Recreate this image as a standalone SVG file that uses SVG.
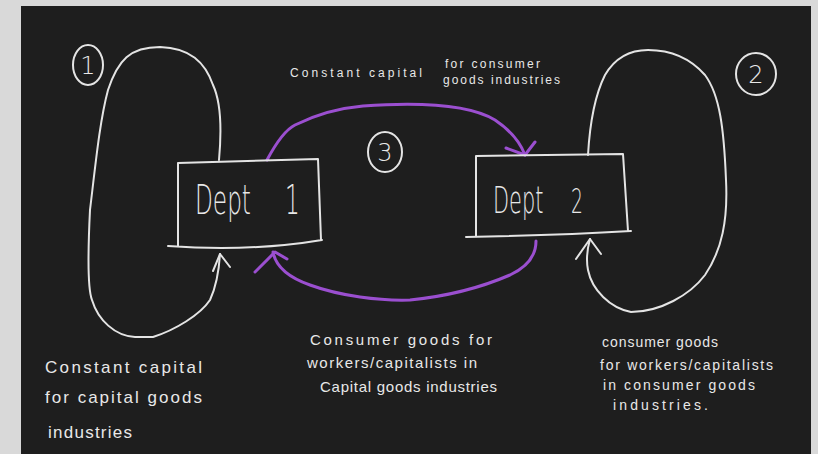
<svg xmlns="http://www.w3.org/2000/svg" width="818" height="454" viewBox="0 0 818 454">
<defs>
<style>
.ln{fill:none;stroke:#e4e4e4;stroke-width:2;stroke-linecap:round;stroke-linejoin:round}
.pu{fill:none;stroke:#9b4fd0;stroke-width:3;stroke-linecap:round;stroke-linejoin:round}
.t{fill:#e8e8e8;font-family:"Liberation Sans","DejaVu Sans",sans-serif}
.big{font-family:"DejaVu Sans","Liberation Sans",sans-serif;font-weight:200}
.num{font-family:"DejaVu Sans","Liberation Sans",sans-serif;font-weight:200;font-size:24px;text-anchor:middle}
</style>
</defs>
<rect x="0" y="0" width="818" height="454" fill="#d9d9d9"/>
<rect x="21" y="6" width="790" height="448" fill="#1e1e1e"/>

<g id="connectors">
  <g id="loop1">
    <path class="ln" d="M219,160 C222,127 220,100 213,85 C205,62 190,48 160,47 C130,47 118,60 108,90 C100,120 96,160 90,210 C88,250 88,290 92,300 C98,320 115,336 135,337 L153,337 C175,330 200,315 210,300 C217,285 219,270 220,254"/>
    <path class="ln" d="M213,271 L220,254 L230,267"/>
  </g>
  <g id="loop2">
    <path class="ln" d="M588,155 C590,120 595,95 605,75 C615,58 630,50 648,50 C670,50 690,58 705,75 C720,95 724,130 726,180 C728,220 722,250 705,275 C690,295 660,312 631,312 C610,308 592,290 588,270 C586,260 587,250 590,239"/>
    <path class="ln" d="M576,259 L590,239 L601,254"/>
  </g>
  <g id="flow-top">
    <path class="pu" d="M267,160 C275,145 285,130 295,125 C315,115 340,108 363,106 C420,102 470,105 495,120 C510,130 520,142 525,155"/>
    <path class="pu" d="M506,148 L525,155 L535,142"/>
  </g>
  <g id="flow-bottom">
    <path class="pu" d="M536,241 C536,258 525,268 510,275 C480,288 450,296 410,300 C380,301 340,296 310,285 C290,278 276,268 273,252"/>
    <path class="pu" d="M255,272 L275,252 L287,259"/>
  </g>
</g>

<g id="dept1">
  <path class="ln" d="M178,163 L318,159 L321,240 M168,246 Q250,252 322,240 M178,163 L178,246"/>
  <text class="t big" font-size="40" transform="matrix(0.58 0 0 1 195 214)" x="0" y="0">Dept<tspan x="155">1</tspan></text>
</g>

<g id="dept2">
  <path class="ln" d="M476,156 L623,154 L628,231 M466,237 C520,236 580,234 631,231 M476,156 L476,237"/>
  <text class="t big" font-size="38" transform="matrix(0.55 0 0 1 493 213)" x="0" y="0">Dept<tspan x="142" font-size="34">2</tspan></text>
</g>

<g id="marker1">
  <ellipse class="ln" cx="88" cy="65" rx="15" ry="20"/>
  <text class="t num" x="88" y="74">1</text>
</g>
<g id="marker2">
  <ellipse class="ln" cx="756" cy="74" rx="20" ry="21"/>
  <text class="t num" x="756" y="83">2</text>
</g>
<g id="marker3">
  <ellipse class="ln" cx="385" cy="152" rx="17" ry="20"/>
  <text class="t num" x="385" y="161">3</text>
</g>

<g id="label-top">
  <text class="t" font-size="12" x="290" y="77" textLength="132" lengthAdjust="spacing">Constant capital</text>
  <text class="t" font-size="12" x="445" y="68" textLength="95" lengthAdjust="spacing">for consumer</text>
  <text class="t" font-size="12" x="443" y="84" textLength="117" lengthAdjust="spacing">goods industries</text>
</g>
<g id="label-left">
  <text class="t" font-size="17" x="45" y="373" textLength="157" lengthAdjust="spacing">Constant capital</text>
  <text class="t" font-size="17" x="45" y="403" textLength="157" lengthAdjust="spacing">for capital goods</text>
  <text class="t" font-size="17" x="48" y="438" textLength="84" lengthAdjust="spacing">industries</text>
</g>
<g id="label-middle">
  <text class="t" font-size="15" x="310" y="345" textLength="182" lengthAdjust="spacing">Consumer goods for</text>
  <text class="t" font-size="15" x="307" y="368" textLength="170" lengthAdjust="spacing">workers/capitalists in</text>
  <text class="t" font-size="15" x="320" y="392" textLength="177" lengthAdjust="spacing">Capital goods industries</text>
</g>
<g id="label-right">
  <text class="t" font-size="14" x="602" y="347" textLength="116" lengthAdjust="spacing">consumer goods</text>
  <text class="t" font-size="14" x="600" y="370" textLength="173" lengthAdjust="spacing">for workers/capitalists</text>
  <text class="t" font-size="14" x="603" y="390" textLength="152" lengthAdjust="spacing">in consumer goods</text>
  <text class="t" font-size="14" x="613" y="410" textLength="95" lengthAdjust="spacing">industries.</text>
</g>
</svg>
